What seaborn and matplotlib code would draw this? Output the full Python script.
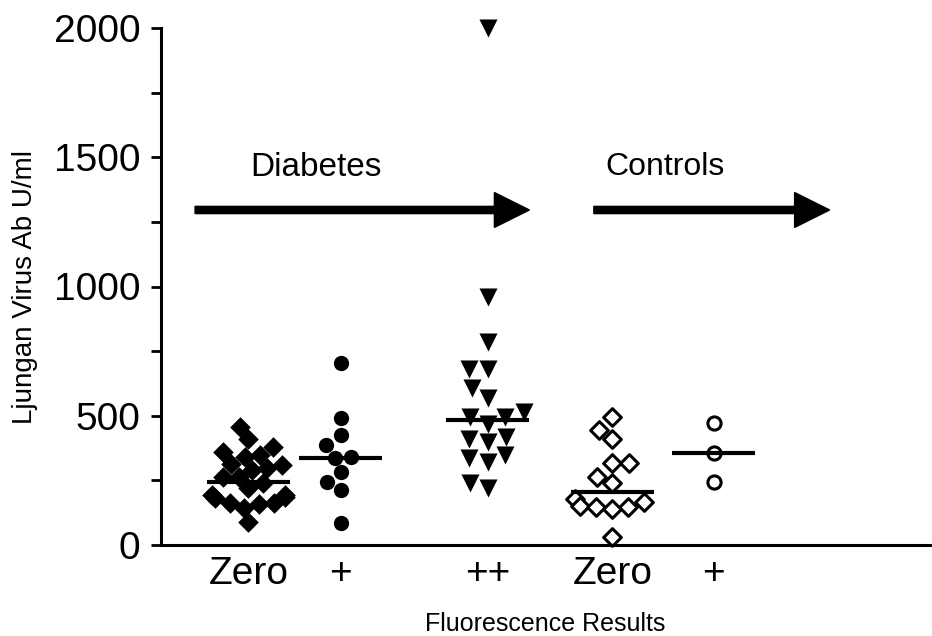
import numpy as np
import pandas as pd
import matplotlib
matplotlib.use('Agg')
import matplotlib.pyplot as plt
import seaborn as sns
from matplotlib.ticker import MultipleLocator

# Groups (x labels) and their positions on the axis
labels = ['Zero', '+', '++', 'Zero', '+']
positions = [1.0, 2.0, 3.6, 4.95, 6.05]

# Values (Ljungan virus Ab U/ml)
diab_zero = [456, 410, 379, 360, 348, 340, 313, 309, 298, 290, 263, 263,
             240, 220, 193, 193, 186, 182, 162, 162, 159, 143, 89]
diab_plus = [704, 491, 425, 387, 340, 337, 282, 244, 213, 85]
diab_plusplus = [2000, 959, 785, 681, 681, 607, 569, 514, 495, 495, 468,
                 418, 410, 398, 348, 337, 321, 240, 220]
ctrl_zero = [495, 445, 410, 317, 317, 263, 240, 178, 166, 151, 147, 147, 139, 31]
ctrl_plus = [472, 356, 244]

# Horizontal lines as drawn in the picture
medians = [244, 337, 483, 205, 357]

groups = [diab_zero, diab_plus, diab_plusplus, ctrl_zero, ctrl_plus]
markers = ['D', 'o', 'v', 'D', 'o']
filled = [True, True, True, False, False]
sizes = [10.5, 11, 13, 9, 9.5]

sns.set_theme(style='ticks')
plt.rcParams['font.family'] = ['Liberation Sans', 'DejaVu Sans']
plt.rcParams['text.color'] = 'black'
plt.rcParams['axes.labelcolor'] = 'black'
plt.rcParams['xtick.color'] = 'black'
plt.rcParams['ytick.color'] = 'black'

fig = plt.figure(figsize=(9.32, 6.36), dpi=100)
ax = fig.add_axes([161 / 932, 91 / 636, 769 / 932, 517 / 636])

for i, vals in enumerate(groups):
    df = pd.DataFrame({'x': positions[i], 'y': vals})
    face = 'black' if filled[i] else 'white'
    sns.swarmplot(data=df, x='x', y='y', native_scale=True, ax=ax,
                  marker=markers[i], size=sizes[i], color=face,
                  edgecolor='black', linewidth=0 if filled[i] else 2.2,
                  warn_thresh=1)

for coll in ax.collections:
    coll.set_clip_on(False)

# median lines
for p, m in zip(positions, medians):
    ax.hlines(m, p - 0.45, p + 0.45, color='black', lw=3, zorder=5)

# group arrows and titles
ax.arrow(0.42, 1296, 3.25, 0, width=28, head_width=135, head_length=0.38,
         length_includes_head=False, color='black')
ax.arrow(4.75, 1296, 2.18, 0, width=28, head_width=135, head_length=0.38,
         length_includes_head=False, color='black')
ax.text(1.02, 1462, 'Diabetes', fontsize=24, va='center', ha='left')
ax.text(4.87, 1462, 'Controls', fontsize=23, va='center', ha='left')

ax.set_xlim(0.05, 8.4)
ax.set_ylim(0, 2000)
ax.set_xticks(positions)
ax.set_xticklabels(labels)
ax.yaxis.set_major_locator(MultipleLocator(500))
ax.yaxis.set_minor_locator(MultipleLocator(250))

ax.tick_params(axis='x', length=0, pad=8, labelsize=28)
ax.tick_params(axis='y', which='both', length=7, width=2, pad=8, labelsize=28,
               direction='out')
for s in ['left', 'bottom']:
    ax.spines[s].set_linewidth(2.2)
    ax.spines[s].set_color('black')
sns.despine(ax=ax)

ax.set_xlabel('Fluorescence Results', fontsize=18, labelpad=14)
ax.set_ylabel('Ljungan Virus Ab U/ml', fontsize=20, labelpad=11)

fig.savefig('out.png', dpi=100)
